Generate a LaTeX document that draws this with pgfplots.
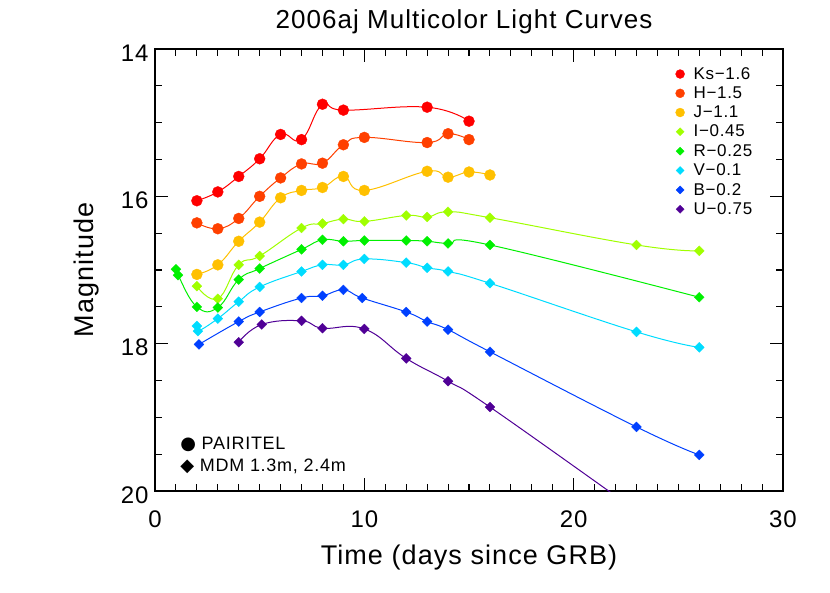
\documentclass[border=0pt]{standalone}
\usepackage{fontspec}
\setmainfont[LetterSpace=4]{Liberation Sans}
\newfontfamily\dejavu{DejaVu Sans}
\usepackage{pgfplots}
\pgfplotsset{compat=1.18}

\definecolor{cKs}{RGB}{255,0,0}
\definecolor{cH}{RGB}{255,64,0}
\definecolor{cJ}{RGB}{255,192,0}
\definecolor{cI}{RGB}{160,255,0}
\definecolor{cR}{RGB}{0,240,0}
\definecolor{cV}{RGB}{0,220,255}
\definecolor{cB}{RGB}{0,64,255}
\definecolor{cU}{RGB}{80,0,150}

\pgfplotsset{
  circ/.style={color=#1, line width=1pt, smooth, tension=0.75,
    mark=*, mark size=5.5pt, mark options={solid, fill=#1, draw=#1, line width=0.3pt}},
  diam/.style={color=#1, line width=1pt, smooth, tension=0.75,
    mark=square*, mark size=3.5pt, mark options={solid, rotate=45, fill=#1, draw=#1, line width=0.3pt}},
}

\begin{document}
\begin{tikzpicture}
\useasboundingbox (0,0) rectangle (830pt,593pt);
\begin{axis}[
    at={(155pt,102pt)}, anchor=south west,
    scale only axis, width=628pt, height=442pt,
    xmin=0, xmax=30, ymin=14, ymax=20, y dir=reverse,
    xtick={0,10,20,30}, minor x tick num=9,
    ytick={14,16,18,20}, minor y tick num=3,
    major tick length=13pt, minor tick length=7pt,
    tick align=inside,
    axis line style={line width=1.3pt},
    every tick/.style={black, line width=1.1pt},
    /pgf/number format/assume math mode=true,
    tick label style={font=\fontsize{24}{24}\selectfont},
    xticklabel style={yshift=-16pt},
    yticklabel style={xshift=-3pt, yshift=-4pt},
    title={2006aj Multicolor Light Curves},
    every axis title/.style={at={(axis description cs:0.5,1)}, anchor=base, xshift=-5pt, yshift=20pt,
      font=\fontsize{26}{26}\selectfont},
    xlabel={Time (days since GRB)},
    every axis x label/.style={at={(axis description cs:0.5,0)}, anchor=base, yshift=-73pt,
      font=\fontsize{27}{27}\selectfont},
    ylabel={Magnitude},
    every axis y label/.style={at={(axis description cs:0,0.5)}, xshift=-62pt, rotate=90, anchor=base,
      font=\fontsize{27}{27}\selectfont},
    legend style={draw=none, fill=none, inner sep=0pt, outer sep=0pt,
      at={(0.829,0.963)}, anchor=north west,
      font=\fontsize{17}{17}\selectfont, row sep=2pt, column sep=7pt},
    legend cell align=left,
    legend image code/.code={\draw[#1, only marks, every mark/.append style={scale=0.82}] plot coordinates {(0pt,0pt)};},
]

\addplot[circ=cKs] coordinates {
  (2,16.06)(3,15.94)(4,15.73)(5,15.49)(6,15.16)(7,15.23)(8,14.75)(9,14.83)(13,14.79)(15,14.98)
};
\addlegendentry{Ks−1.6}

\addplot[circ=cH] coordinates {
  (2,16.36)(3,16.44)(4,16.30)(5,16.00)(6,15.75)(7,15.56)(8,15.55)(9,15.30)(10,15.20)(13,15.27)(14,15.15)(15,15.23)
};
\addlegendentry{H−1.5}

\addplot[circ=cJ] coordinates {
  (2,17.06)(3,16.93)(4,16.61)(5,16.35)(6,16.02)(7,15.92)(8,15.88)(9,15.73)(10,15.92)(13,15.66)(14,15.74)(15,15.67)(16,15.71)
};
\addlegendentry{J−1.1}

\addplot[diam=cI] coordinates {
  (2,17.22)(3,17.39)(4,16.93)(5,16.81)(7,16.43)(8,16.37)(9,16.31)(10,16.34)(12,16.26)(13,16.28)(14,16.21)(16,16.29)(23,16.66)(26,16.74)
};
\addlegendentry{I−0.45}

\addplot[diam=cR] coordinates {
  (1.0,16.99)(1.1,17.07)(2,17.50)(3,17.51)(4,17.13)(5,16.98)(7,16.72)(8,16.59)(9,16.61)(10,16.60)(12,16.60)(13,16.61)(14,16.64)(16,16.66)(26,17.37)
};
\addlegendentry{R−0.25}

\addplot[diam=cV] coordinates {
  (2,17.76)(2.05,17.83)(3,17.66)(4,17.43)(5,17.23)(7,17.02)(8,16.93)(9,16.93)(10,16.85)(12,16.90)(13,16.97)(14,17.02)(16,17.18)(23,17.84)(26,18.05)
};
\addlegendentry{V−0.1}

\addplot[diam=cB] coordinates {
  (2.1,18.01)(4,17.70)(5,17.57)(7,17.38)(8,17.35)(9,17.27)(9.9,17.38)(12,17.57)(13,17.70)(14,17.81)(16,18.11)(23,19.13)(26,19.51)
};
\addlegendentry{B−0.2}

\addplot[diam=cU] coordinates {
  (4,17.98)(5.1,17.74)(7,17.69)(8,17.79)(10,17.80)(12,18.20)(14,18.51)(16,18.86)(23,20.27)
};
\addlegendentry{U−0.75}

\node[anchor=base west, inner sep=0pt, font=\fontsize{18}{18}\selectfont] at (axis cs:1.2,19.43) {{\dejavu ●} PAIRITEL};
\node[anchor=base west, inner sep=0pt, font=\fontsize{18}{18}\selectfont] at (axis cs:1.2,19.74) {{\dejavu ◆} MDM 1.3m, 2.4m};
\end{axis}
\end{tikzpicture}
\end{document}
